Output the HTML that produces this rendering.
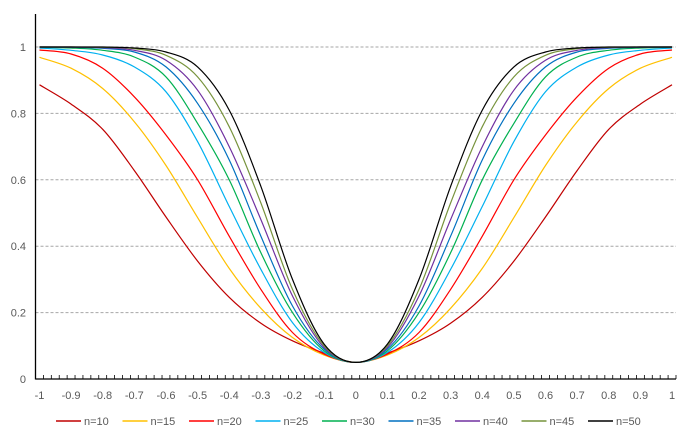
<!DOCTYPE html>
<html><head><meta charset="utf-8"><style>
html,body{margin:0;padding:0;background:#fff;}
svg{display:block;font-family:"Liberation Sans",sans-serif;}
</style></head><body>
<svg id="chart" width="693" height="441" viewBox="0 0 693 441" xmlns="http://www.w3.org/2000/svg">
<g id="grid"></g>
<g id="series"></g>
<g id="axes"></g>
<g id="legend"></g>
</svg>
<script>
const xValues = [-1,-0.9,-0.8,-0.7,-0.6,-0.5,-0.4,-0.3,-0.2,-0.1,0,0.1,0.2,0.3,0.4,0.5,0.6,0.7,0.8,0.9,1];
const n10 = [0.886,0.828,0.752,0.628,0.488,0.355,0.246,0.168,0.115,0.078,0.05,0.078,0.115,0.168,0.246,0.355,0.488,0.628,0.752,0.828,0.886];
const n15 = [0.969,0.936,0.875,0.775,0.643,0.486,0.333,0.213,0.125,0.072,0.05,0.072,0.125,0.213,0.333,0.486,0.643,0.775,0.875,0.936,0.969];
const n20 = [0.991,0.979,0.936,0.85,0.735,0.60,0.43,0.27,0.14,0.075,0.05,0.075,0.14,0.27,0.43,0.60,0.735,0.85,0.936,0.979,0.991];
const n25 = [0.997,0.99,0.976,0.94,0.865,0.715,0.52,0.33,0.17,0.08,0.05,0.08,0.17,0.33,0.52,0.715,0.865,0.94,0.976,0.99,0.997];
const n30 = [0.999,0.997,0.99,0.97,0.91,0.77,0.60,0.38,0.20,0.085,0.05,0.085,0.20,0.38,0.60,0.77,0.91,0.97,0.99,0.997,0.999];
const n35 = [1,0.999,0.996,0.985,0.94,0.83,0.66,0.43,0.22,0.09,0.05,0.09,0.22,0.43,0.66,0.83,0.94,0.985,0.996,0.999,1];
const n40 = [1,1,0.998,0.99,0.96,0.87,0.70,0.48,0.25,0.095,0.05,0.095,0.25,0.48,0.70,0.87,0.96,0.99,0.998,1,1];
const n45 = [1,1,0.999,0.995,0.975,0.91,0.76,0.53,0.27,0.10,0.05,0.10,0.27,0.53,0.76,0.91,0.975,0.995,0.999,1,1];
const n50 = [1,1,1,0.997,0.985,0.94,0.81,0.58,0.30,0.105,0.05,0.105,0.30,0.58,0.81,0.94,0.985,0.997,1,1,1];
const seriesNames = ["n=10","n=15","n=20","n=25","n=30","n=35","n=40","n=45","n=50"];
const yTicks = [0,0.2,0.4,0.6,0.8,1];
const xTickLabels = [-1,-0.9,-0.8,-0.7,-0.6,-0.5,-0.4,-0.3,-0.2,-0.1,0,0.1,0.2,0.3,0.4,0.5,0.6,0.7,0.8,0.9,1];

const seriesData=[n10,n15,n20,n25,n30,n35,n40,n45,n50];
const colors=["#C00000","#FFC000","#FF0000","#00B0F0","#00B050","#0070C0","#7030A0","#77933C","#000000"];
const NS="http://www.w3.org/2000/svg";
const X0=35.5,X1=676,Y0=379,Y1=47;
const step=(X1-X0)/81;
function xs(v){return X0+step/2+(v+1)/2*(X1-X0-step);}
function ys(v){return Y0-v*(Y0-Y1);}
function mk(tag,attrs,parent){const e=document.createElementNS(NS,tag);for(const k in attrs)e.setAttribute(k,attrs[k]);parent.appendChild(e);return e;}
// Catmull-Rom path, control points clamped to plot top
function crPath(px,py){
  const n=px.length,top=ys(1);
  const cl=v=>Math.max(top,v);
  let p='M'+px[0].toFixed(1)+','+py[0].toFixed(1);
  for(let i=0;i<n-1;i++){
    const i0=Math.max(0,i-1),i3=Math.min(n-1,i+2);
    const c1x=px[i]+(px[i+1]-px[i0])/6,c1y=cl(py[i]+(py[i+1]-py[i0])/6);
    const c2x=px[i+1]-(px[i3]-px[i])/6,c2y=cl(py[i+1]-(py[i3]-py[i])/6);
    p+=' C'+c1x.toFixed(1)+','+c1y.toFixed(1)+' '+c2x.toFixed(1)+','+c2y.toFixed(1)+' '+px[i+1].toFixed(1)+','+py[i+1].toFixed(1);
  }
  return p;
}
const grid=document.getElementById('grid'),axes=document.getElementById('axes'),ser=document.getElementById('series'),leg=document.getElementById('legend');
yTicks.forEach(t=>{
  if(t>0){const l=mk('line',{x1:X0,x2:X1,y1:ys(t),y2:ys(t),stroke:'#A6A6A6','stroke-width':1,'stroke-dasharray':'3,2'},grid);
  
  }
  const tx=mk('text',{x:26,y:ys(t)+4,'text-anchor':'end','font-size':11,fill:'#595959'},axes);
  tx.textContent=String(t);
  
  
});
const ya=mk('line',{x1:X0,x2:X0,y1:14,y2:Y0+0.5,stroke:'#000','stroke-width':1.3},axes);


const xa=mk('line',{x1:X0,x2:X1,y1:Y0,y2:Y0,stroke:'#000','stroke-width':1.3},axes);


for(let i=1;i<=81;i++){const x=X0+i*step;const tk=mk('line',{x1:x,x2:x,y1:Y0,y2:Y0-4,stroke:'#000','stroke-width':0.8},axes);
  
  }
xTickLabels.forEach(v=>{
  const tx=mk('text',{x:xs(v),y:399,'text-anchor':'middle','font-size':11,fill:'#595959'},axes);
  tx.textContent=String(v);
  
  
});
seriesData.forEach((arr,si)=>{
  const px=xValues.map(v=>xs(v)),py=arr.map(v=>ys(v));
  const pl=mk('path',{d:crPath(px,py),fill:'none',stroke:colors[si],'stroke-width':1.2,'stroke-linejoin':'round'},ser);
  
  
  const lx=56+si*66.5;
  const g=mk('g',{},leg);
  
  
  mk('line',{x1:lx,x2:lx+25,y1:421,y2:421,stroke:colors[si],'stroke-width':1.5},g);
  const t=mk('text',{x:lx+28,y:425,'font-size':11,fill:'#595959'},g);
  t.textContent=seriesNames[si];
});
</script>
</body></html>
